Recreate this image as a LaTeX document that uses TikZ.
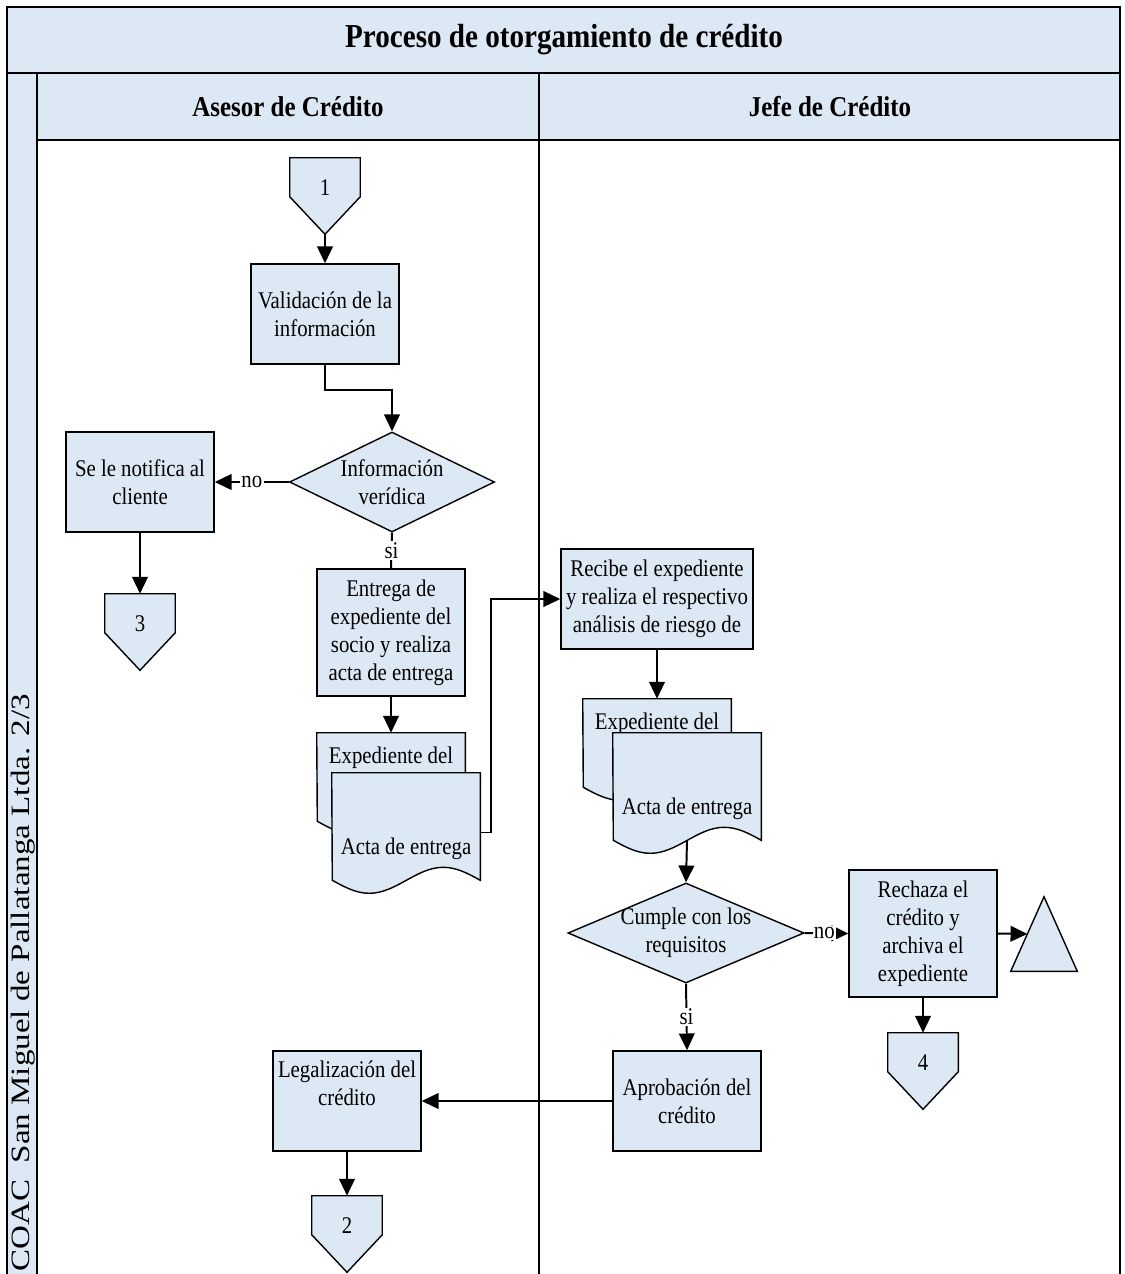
\documentclass[tikz,border=0pt]{standalone}
\usepackage{fontspec}
\setmainfont{Liberation Serif}[FakeStretch=0.87]
\newfontfamily\sidefont{Liberation Serif}
\usepackage{graphicx}
\usepackage{tikz}
\usetikzlibrary{arrows.meta}
\usetikzlibrary{calc}
\usetikzlibrary{shapes,shapes.geometric}
\definecolor{lanefill}{RGB}{221,232,245}
\newcommand{\bodyfont}{\fontsize{17}{19.9}\selectfont}
\newcommand{\titlefont}{\fontsize{23.8}{28}\selectfont\bfseries}
\newcommand{\headfont}{\fontsize{20.4}{24}\selectfont\bfseries}
\tikzset{>=stealth,
  frame/.style={line width=1.4pt},
  boxline/.style={draw=black, line width=1pt, fill=lanefill},
  proc/.style={boxline, rectangle, minimum width=3.7cm, minimum height=2.5cm, align=center, inner sep=1pt, font=\bodyfont},
  decide/.style={boxline, diamond, aspect=2, inner sep=-4pt, minimum height=2.5cm, align=center, font=\bodyfont},
  ghost/.style={rectangle, draw=none, inner sep=0pt},
  offp/.style={ghost, minimum width=1.75cm, minimum height=1.9cm},
  docback/.style={ghost, minimum width=3.7cm, minimum height=2.2cm},
  docfront/.style={ghost, minimum width=3.7cm, minimum height=2.675cm},
  tri/.style={ghost, minimum width=1.65cm, minimum height=1.85cm},
  plain/.style={font=\bodyfont, inner sep=0pt, align=center},
  tag/.style={font=\bodyfont, fill=white, inner sep=1pt},
  flow/.style={line width=1.4pt, -{Triangle[length=4.2mm,width=3.9mm]}},
}
% off-page connector: name, position, text
\newcommand{\offpage}[3]{%
  \node[offp] (#1) at (#2) {};
  \filldraw[boxline] (#1.north west) -- (#1.north east) -- ++(0,39) -- (#1.south) -- ($(#1.north west)+(0,39)$) -- cycle;
  \node[plain] (#1t) at ($(#1)+(0,-8)$) {#3};}
% document sheet: name, style, position, text shift, text
\newcommand{\docsheet}[5]{%
  \node[#2] (#1) at (#3) {};
  \filldraw[boxline] (#1.north west) -- (#1.north east) -- (#1.south east)
    sin ++(-37,-13) cos ++(-37,13) sin ++(-37,13) cos ++(-37,-13) -- cycle;
  \node[plain] (#1t) at ($(#1)+(0,#4)$) {#5};}

\begin{document}
\begin{tikzpicture}[x=0.025cm, y=-0.025cm]
\useasboundingbox (0,0) rectangle (1124,1274);
% pool and lanes
\fill[lanefill] (7,7) rectangle (1120,140);
\fill[lanefill] (7,73) rectangle (37,1274);
\draw[frame] (7,1274) -- (7,7) -- (1120,7) -- (1120,1274);
\draw[frame] (7,73) -- (1120,73);
\draw[frame] (37,140) -- (1120,140);
\draw[frame] (37,73) -- (37,1274);
\draw[frame] (539,73) -- (539,1274);
\node[font=\titlefont] (title) at (564,40) {Proceso de otorgamiento de crédito};
\node[font=\headfont] (lane1) at (288,107) {Asesor de Crédito};
\node[font=\headfont] (lane2) at (830,107) {Jefe de Crédito};
\node[rotate=90, anchor=east, inner sep=0pt, font=\sidefont\fontsize{23.5}{28}\selectfont] (org) at (23,694) {\scalebox{1}[0.8]{COAC\ \ San Miguel de Pallatanga Ltda. 2/3}};

% Asesor de Credito
\offpage{c1}{325,196}{1}
\node[proc] (v1) at (325,314) {Validación de la\\información};
\node[decide, minimum width=5.125cm] (d1) at (392,482) {Información\\verídica};
\node[proc] (n1) at (140,482) {Se le notifica al\\cliente};
\offpage{c3}{140,632}{3}
\node[proc, minimum height=3.175cm] (e1) at (391,632.5) {Entrega de\\expediente del\\socio y realiza\\acta de entrega};
\docsheet{lb}{docback}{391,777}{-19}{Expediente del}
\docsheet{lf}{docfront}{406,826.5}{22}{Acta de entrega}
\node[proc] (lg) at (347,1101) {Legalización del\\crédito\\\strut};
\offpage{c2}{347,1234}{2}

% Jefe de Credito
\node[proc, minimum width=4.8cm] (r1) at (657,599) {Recibe el expediente\\y realiza el respectivo\\análisis de riesgo de};
\docsheet{rb}{docback}{657,743}{-19}{Expediente del}
\docsheet{rf}{docfront}{687,786.5}{22}{Acta de entrega}
\node[decide, minimum width=5.9cm, aspect=2.36] (d2) at (686,933) {Cumple con los\\requisitos};
\node[proc, minimum height=3.175cm] (rj) at (923,933.5) {Rechaza el\\crédito y\\archiva el\\expediente};
\node[tri] (arch) at (1044,934) {};
\filldraw[boxline] (arch.south west) -- (arch.north) -- (arch.south east) -- cycle;
\offpage{c4}{923,1071}{4}
\node[proc] (ap) at (687,1101) {Aprobación del\\crédito};

% connectors
\draw[flow] (c1.south) -- (v1.north);
\draw[flow] (v1.south) -- ++(0,25) -| (d1.north);
\draw[flow] (d1.west) -- node[tag] (no1) {no} (n1.east);
\draw[flow] (n1.south) -- (c3.north);
\draw[line width=1.4pt] (d1.south) -- node[tag] (si1) {si} (e1.north);
\draw[flow] (e1.south) -- (lb.north);
\draw[flow] ($(lf.east)+(0,6)$) -- ++(11,0) |- (r1.west);
\draw[flow] (r1.south) -- (rb.north);
\draw[flow] (rf.south) -- (d2.north);
\draw[flow] (d2.east) -- node[tag, pos=0.45] (no2) {no} (rj.west);
\draw[flow] (d2.south) -- node[tag] (si2) {si} (ap.north);
\draw[flow] (rj.east) -- ($(arch.south west)!0.5!(arch.north)$);
\draw[flow] (rj.south) -- (c4.north);
\draw[flow] (ap.west) -- (lg.east);
\draw[flow] (lg.south) -- (c2.north);
\end{tikzpicture}
\end{document}
